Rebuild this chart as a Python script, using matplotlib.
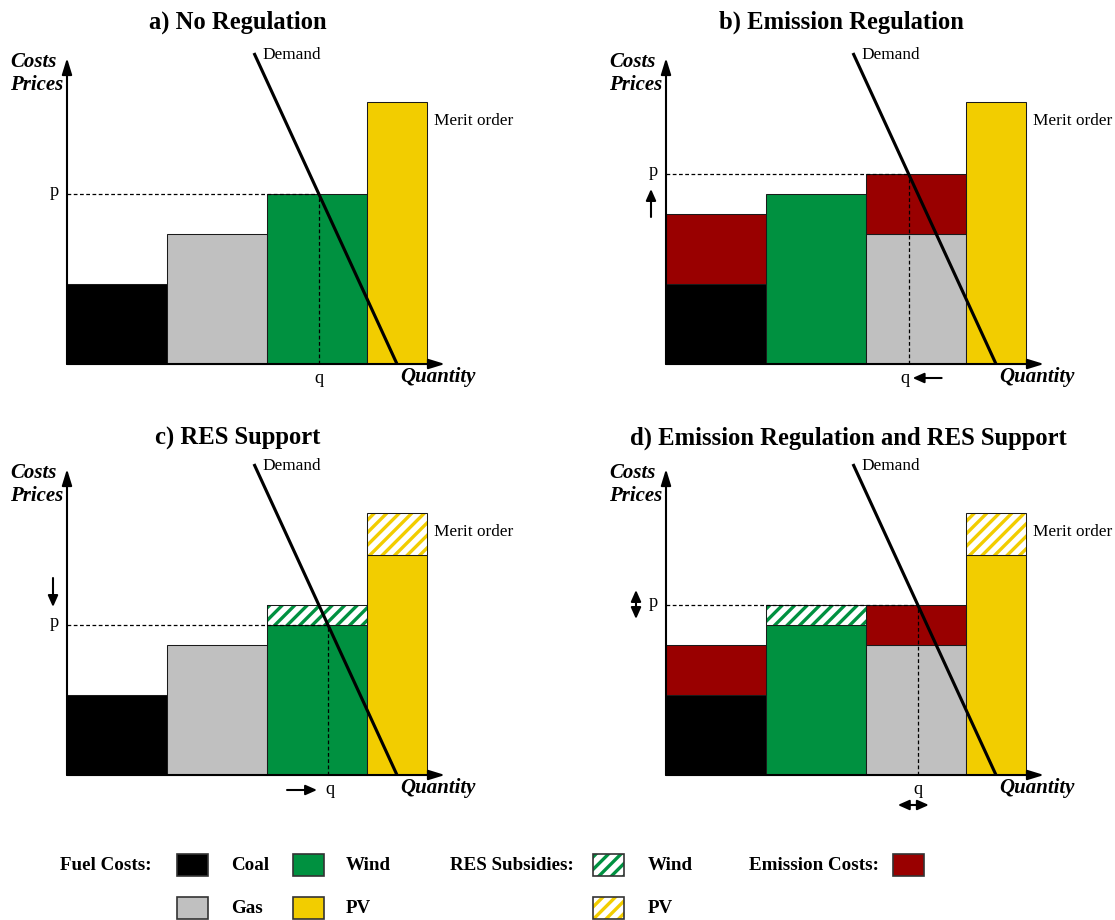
import matplotlib
matplotlib.use("Agg")
import matplotlib.pyplot as plt
from matplotlib.patches import Rectangle
import numpy as np

# ---------------- data ----------------
titles = ["a) No Regulation", "b) Emission Regulation", "c) RES Support",
          "d) Emission Regulation and RES Support"]
orders = [["Coal", "Gas", "Wind", "PV"],
          ["Coal", "Wind", "Gas", "PV"],
          ["Coal", "Gas", "Wind", "PV"],
          ["Coal", "Wind", "Gas", "PV"]]
capacity = {"Coal": 1.0, "Gas": 1.0, "Wind": 1.0, "PV": 0.6}
fuel_costs = [[8, 13, 17, 26.2],
              [8, 17, 13, 26.2],
              [8, 13, 15, 22],
              [8, 15, 13, 22]]
emission_costs = [[0, 0, 0, 0],
                  [7, 0, 6, 0],
                  [0, 0, 0, 0],
                  [5, 0, 4, 0]]
res_subsidies = [[0, 0, 0, 0],
                 [0, 0, 0, 0],
                 [0, 0, 2, 4.2],
                 [0, 2, 0, 4.2]]
prices = [17, 19, 15, 17]
demand_q = [1.87, 3.30]
demand_p = [31.1, 0.0]

colors = {"Coal": "#000000", "Gas": "#c0c0c0", "Wind": "#009140", "PV": "#f2cd00"}
emission_color = "#990000"

# ---------------- layout ----------------
DPI = 150
W, H = 1115, 920
plt.rcParams["font.family"] = ["Liberation Serif", "DejaVu Serif"]
plt.rcParams["hatch.linewidth"] = 1.6
HATCH = "////"

fig = plt.figure(figsize=(W / DPI, H / DPI), dpi=DPI)

# panel origins in pixels
origins = [(67, 364), (666, 364), (67, 775), (666, 775)]
title_pos = [(238, 22), (841, 22), (238, 438), (848, 438)]
XL, XR, YB, YT = -0.67, 4.48, -4.0, 33.0
PXX, PXY = 100.0, 10.0

edge_lw = 0.5
txt_size = 8.3
lab_size = 10

AX_STYLE = "-|>,head_width=0.2,head_length=0.65"
SM_STYLE = "-|>,head_width=0.2,head_length=0.45"
DB_STYLE = "<|-|>,head_width=0.2,head_length=0.45"

def arrow(ax, tail, tip, style=SM_STYLE, lw=1.0):
    ax.annotate("", xy=tip, xytext=tail, annotation_clip=False,
                arrowprops=dict(arrowstyle=style, lw=lw, color="black",
                                mutation_scale=10, shrinkA=0, shrinkB=0))

for i in range(4):
    ox, oy = origins[i]
    left_px = ox + XL * PXX
    right_px = ox + XR * PXX
    top_px = oy - YT * PXY
    bot_px = oy - YB * PXY
    ax = fig.add_axes([left_px / W, 1 - bot_px / H,
                       (right_px - left_px) / W, (bot_px - top_px) / H])
    ax.set_xlim(XL, XR)
    ax.set_ylim(YB, YT)
    ax.set_axis_off()

    order = orders[i]
    widths = np.array([capacity[t] for t in order])
    lefts = np.concatenate([[0], np.cumsum(widths)[:-1]])
    fuel = np.array(fuel_costs[i], dtype=float)
    em = np.array(emission_costs[i], dtype=float)
    sub = np.array(res_subsidies[i], dtype=float)
    cols = [colors[t] for t in order]

    ax.bar(lefts, fuel, width=widths, align="edge", color=cols,
           edgecolor="#1a1a1a", linewidth=edge_lw, zorder=2)
    m = em > 0
    if m.any():
        ax.bar(lefts[m], em[m], bottom=fuel[m], width=widths[m], align="edge",
               color=emission_color, edgecolor="#1a1a1a", linewidth=edge_lw, zorder=2)
    s = sub > 0
    if s.any():
        hcols = [c for c, k in zip(cols, s) if k]
        ax.bar(lefts[s], sub[s], bottom=fuel[s], width=widths[s], align="edge",
               color="white", edgecolor=hcols, hatch=HATCH, linewidth=0, zorder=2)
        ax.bar(lefts[s], sub[s], bottom=fuel[s], width=widths[s], align="edge",
               fill=False, edgecolor="#1a1a1a", linewidth=edge_lw, zorder=2.5)

    # demand
    ax.plot(demand_q, demand_p, color="black", lw=1.5, zorder=4,
            solid_capstyle="butt")
    ax.text(demand_q[0] + 0.08, demand_p[0] - 0.2, "Demand", fontsize=txt_size,
            ha="left", va="center")

    # equilibrium
    p = prices[i]
    q = np.interp(p, demand_p[::-1], demand_q[::-1])
    ax.plot([0, q], [p, p], color="black", lw=0.6, ls=(0, (3, 2)), zorder=3)
    ax.plot([q, q], [0, p], color="black", lw=0.6, ls=(0, (3, 2)), zorder=3)
    ax.text(-0.13, p + 0.3, "p", fontsize=txt_size + 0.5, ha="center", va="center")
    ax.text(q - (0.04 if i == 1 else 0) + (0.02 if i == 2 else 0), -1.4, "q",
            fontsize=txt_size + 0.5, ha="center", va="center")

    # axes arrows
    arrow(ax, (0, 0), (3.78, 0), style=AX_STYLE)
    arrow(ax, (0, 0), (0, 30.6), style=AX_STYLE)
    ax.text(-0.57, 30.2, "Costs", fontsize=lab_size, fontweight="bold",
            fontstyle="italic", ha="left", va="center")
    ax.text(-0.57, 27.9, "Prices", fontsize=lab_size, fontweight="bold",
            fontstyle="italic", ha="left", va="center")
    ax.text(4.09, -1.3, "Quantity", fontsize=lab_size, fontweight="bold",
            fontstyle="italic", ha="right", va="center")
    ax.text(3.67, 24.3, "Merit order", fontsize=txt_size, ha="left", va="center")

    # change indicators
    if i == 1:
        arrow(ax, (-0.15, 14.7), (-0.15, 17.5))
        arrow(ax, (q + 0.33, -1.4), (q + 0.04, -1.4))
    elif i == 2:
        arrow(ax, (-0.14, 19.7), (-0.14, 16.8))
        arrow(ax, (q - 0.41, -1.5), (q - 0.11, -1.5))
    elif i == 3:
        arrow(ax, (-0.30, 15.6), (-0.30, 18.5), style=DB_STYLE)
        arrow(ax, (q - 0.20, -3.0), (q + 0.11, -3.0), style=DB_STYLE)

    tx, ty = title_pos[i]
    fig.text(tx / W, 1 - ty / H, titles[i], fontsize=11.8, fontweight="bold",
             ha="center", va="center")

# ---------------- legend ----------------
lax = fig.add_axes([0, 0, 1, 85 / H])
lax.set_xlim(0, W)
lax.set_ylim(H, H - 85)
lax.set_axis_off()
leg_fs = 9.1
row_y = [865, 908]
sw_w, sw_h = 31, 22

def swatch(x, y, face, hatch_col=None):
    if hatch_col is None:
        lax.add_patch(Rectangle((x, y - sw_h / 2), sw_w, sw_h, facecolor=face,
                                edgecolor="#333333", lw=0.8))
    else:
        lax.add_patch(Rectangle((x, y - sw_h / 2), sw_w, sw_h, facecolor="white",
                                edgecolor=hatch_col, hatch=HATCH, lw=0))
        lax.add_patch(Rectangle((x, y - sw_h / 2), sw_w, sw_h, fill=False,
                                edgecolor="#333333", lw=0.8))

def ltext(x, y, s):
    lax.text(x, y, s, fontsize=leg_fs, fontweight="bold", ha="left", va="center")

ltext(60, row_y[0], "Fuel Costs:")
swatch(177, row_y[0], colors["Coal"]); ltext(231, row_y[0], "Coal")
swatch(293, row_y[0], colors["Wind"]); ltext(346, row_y[0], "Wind")
swatch(177, row_y[1], colors["Gas"]); ltext(231, row_y[1], "Gas")
swatch(293, row_y[1], colors["PV"]); ltext(346, row_y[1], "PV")
ltext(450, row_y[0], "RES Subsidies:")
swatch(593, row_y[0], None, colors["Wind"]); ltext(648, row_y[0], "Wind")
swatch(593, row_y[1], None, colors["PV"]); ltext(648, row_y[1], "PV")
ltext(749, row_y[0], "Emission Costs:")
swatch(893, row_y[0], emission_color)

fig.savefig("out.png", dpi=DPI)
